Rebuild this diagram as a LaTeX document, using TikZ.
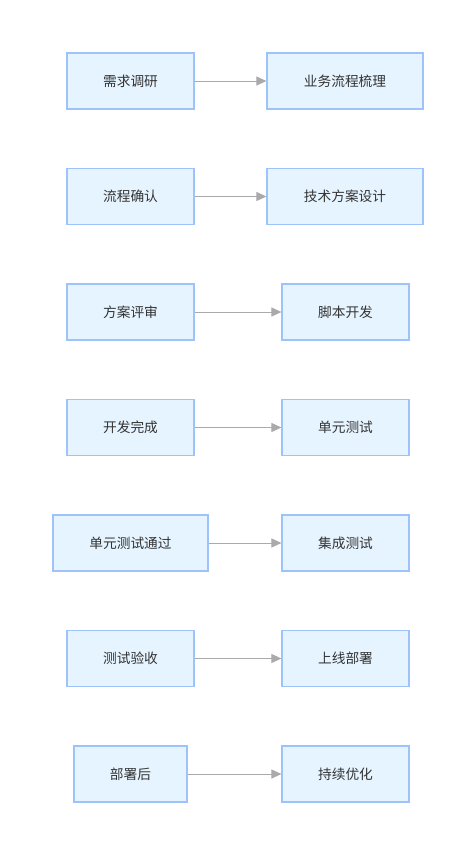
\documentclass[tikz,border=0pt]{standalone}
\usepackage{fontspec}
\newfontfamily\cjk{Noto Sans CJK SC}
\usetikzlibrary{arrows.meta}
\definecolor{boxfill}{HTML}{E6F4FF}
\definecolor{boxline}{HTML}{9EC3FA}
\definecolor{txt}{HTML}{333333}
\definecolor{arr}{HTML}{AAAAAA}
\begin{document}
\begin{tikzpicture}[x=1pt,y=-1pt,
  box/.style={draw=boxline,line width=1.2pt,fill=boxfill,minimum height=56pt,inner sep=0pt,font=\cjk\fontsize{13.7}{16}\selectfont,text=txt},
  conn/.style={draw=arr,line width=1pt,-{Triangle[length=10pt,width=9pt]}}]
\useasboundingbox (0,0) rectangle (472,847);
\fill[white] (0,0) rectangle (472,847);
% row 1
\node[box,minimum width=127pt] (a1) at (130.5,81) {需求调研};
\node[box,minimum width=156pt] (b1) at (345,81) {业务流程梳理};
% row 2
\node[box,minimum width=127pt] (a2) at (130.5,196.5) {流程确认};
\node[box,minimum width=156pt] (b2) at (345,196.5) {技术方案设计};
% row 3
\node[box,minimum width=127pt] (a3) at (130.5,312) {方案评审};
\node[box,minimum width=127pt] (b3) at (345.5,312) {脚本开发};
% row 4
\node[box,minimum width=127pt] (a4) at (130.5,427.5) {开发完成};
\node[box,minimum width=127pt] (b4) at (345.5,427.5) {单元测试};
% row 5
\node[box,minimum width=155pt] (a5) at (130.5,543) {单元测试通过};
\node[box,minimum width=127pt] (b5) at (345.5,543) {集成测试};
% row 6
\node[box,minimum width=127pt] (a6) at (130.5,658.5) {测试验收};
\node[box,minimum width=127pt] (b6) at (345.5,658.5) {上线部署};
% row 7
\node[box,minimum width=113pt] (a7) at (130.5,774) {部署后};
\node[box,minimum width=127pt] (b7) at (345.5,774) {持续优化};
\foreach \i in {1,...,7}{\draw[conn] (a\i) -- (b\i);}
\end{tikzpicture}
\end{document}
